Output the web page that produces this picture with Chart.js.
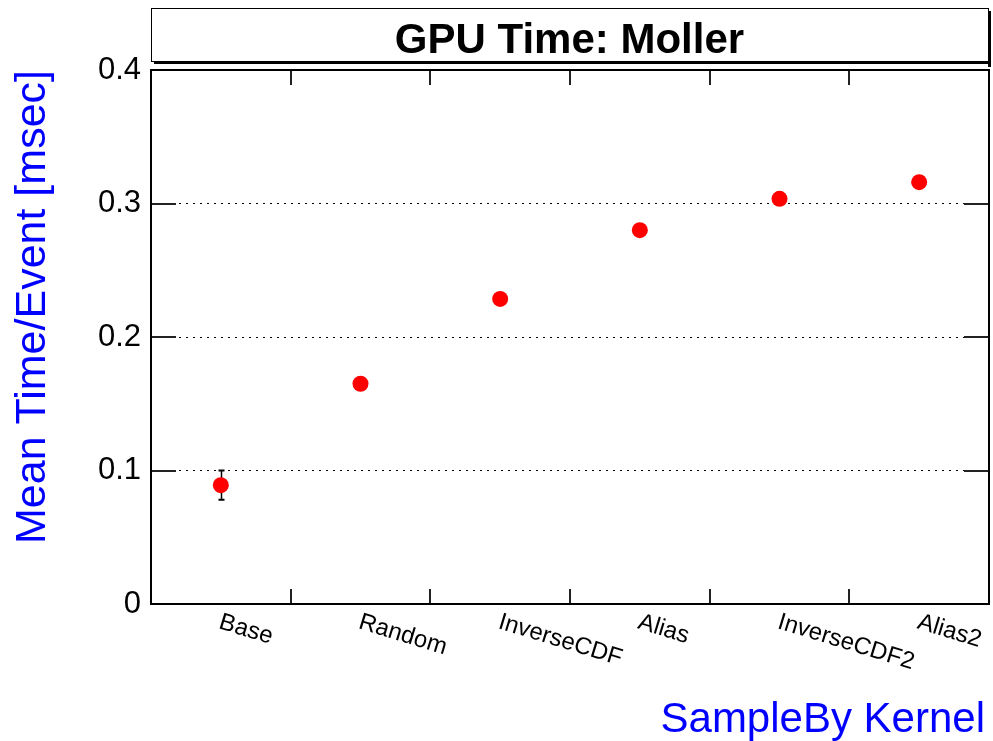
<!DOCTYPE html>
<html>
<head>
<meta charset="utf-8">
<script src="https://cdn.jsdelivr.net/npm/chart.js@4/dist/chart.umd.min.js"></script>
<style>
  html, body { margin: 0; padding: 0; background: #ffffff; }
  #wrap { width: 993px; height: 741px; }
</style>
</head>
<body>
<div id="wrap"><canvas id="c" width="993" height="741"></canvas></div>
<script>
// Sampling kernels on the x axis
const categories = ['Base', 'Random', 'InverseCDF', 'Alias', 'InverseCDF2', 'Alias2'];
// Mean GPU time per event [msec]
const meanTimes = [0.089, 0.165, 0.2285, 0.280, 0.3035, 0.316];
// Statistical error on each mean [msec]
const meanErrors = [0.011, 0.0005, 0.0005, 0.0005, 0.0005, 0.0005];
// Y axis tick values
const yTicks = [0, 0.1, 0.2, 0.3, 0.4];

const FONT = '"Liberation Sans", Arial, Helvetica, sans-serif';
const titleText = 'GPU Time: Moller';
const xTitleText = 'SampleBy Kernel';

// White page, title box with drop shadow, x axis title
const backgroundAndTitle = {
  id: 'backgroundAndTitle',
  beforeDraw(chart) {
    const ctx = chart.ctx;
    ctx.save();
    ctx.fillStyle = '#ffffff';
    ctx.fillRect(0, 0, chart.width, chart.height);
    ctx.restore();
  },
  afterDraw(chart) {
    const ctx = chart.ctx;
    const a = chart.chartArea;
    ctx.save();
    const bx = a.left, by = 8, bw = a.right - a.left - 1, bh = 53;
    ctx.fillStyle = '#ffffff';
    ctx.fillRect(bx, by, bw, bh);
    ctx.strokeStyle = '#000000';
    ctx.lineWidth = 1;
    ctx.strokeRect(bx + 0.5, by + 0.5, bw, bh);
    ctx.fillStyle = '#000000';
    ctx.fillRect(bx + bw, by + 3, 3, bh + 3);
    ctx.fillRect(bx + 3, by + bh, bw, 3);
    ctx.font = 'bold 42px ' + FONT;
    ctx.textAlign = 'center';
    ctx.textBaseline = 'alphabetic';
    ctx.fillText(titleText, bx + bw / 2, 53);
    // x axis title, right aligned under the axis end
    ctx.fillStyle = '#0000ff';
    ctx.font = '42px ' + FONT;
    ctx.textAlign = 'right';
    ctx.fillText(xTitleText, a.right - 4, 732);
    ctx.restore();
  }
};

// Frame, inner tick marks, rotated category labels and error bars
const frameAndTicks = {
  id: 'frameAndTicks',
  beforeDatasetsDraw(chart) {
    const ctx = chart.ctx;
    const xs = chart.scales.x, ys = chart.scales.y;
    ctx.save();
    ctx.strokeStyle = '#000000';
    meanTimes.forEach((v, i) => {
      const e = meanErrors[i];
      const x = Math.round(xs.getPixelForValue(i)) + 0.5;
      const y1 = ys.getPixelForValue(v - e);
      const y2 = ys.getPixelForValue(v + e);
      if (y1 - y2 < 4) return;
      ctx.lineWidth = 1.5;
      ctx.beginPath();
      ctx.moveTo(x, y1); ctx.lineTo(x, y2);
      ctx.stroke();
      ctx.lineWidth = 2;
      ctx.beginPath();
      ctx.moveTo(x - 3, y1); ctx.lineTo(x + 3, y1);
      ctx.moveTo(x - 3, y2); ctx.lineTo(x + 3, y2);
      ctx.stroke();
    });
    ctx.restore();
  },
  afterDatasetsDraw(chart) {
    const ctx = chart.ctx;
    const a = chart.chartArea;
    const xs = chart.scales.x, ys = chart.scales.y;
    ctx.save();
    ctx.strokeStyle = '#222222';
    ctx.lineWidth = 2;
    ctx.beginPath();
    // y tick marks on both sides
    yTicks.forEach(t => {
      const y = Math.round(ys.getPixelForValue(t));
      ctx.moveTo(a.left, y); ctx.lineTo(a.left + 25, y);
      ctx.moveTo(a.right, y); ctx.lineTo(a.right - 25, y);
    });
    // x tick marks at category boundaries, bottom and top
    for (let i = 0; i < categories.length - 1; i++) {
      const x = Math.round((xs.getPixelForValue(i) + xs.getPixelForValue(i + 1)) / 2);
      ctx.moveTo(x, a.bottom); ctx.lineTo(x, a.bottom - 15);
      ctx.moveTo(x, a.top); ctx.lineTo(x, a.top + 15);
    }
    ctx.stroke();
    ctx.strokeStyle = '#000000';
    ctx.strokeRect(a.left, a.top, a.right - a.left, a.bottom - a.top);
    // category labels, slanted downwards
    ctx.fillStyle = '#000000';
    ctx.font = '24px ' + FONT;
    ctx.textAlign = 'left';
    ctx.textBaseline = 'alphabetic';
    categories.forEach((lab, i) => {
      const x = xs.getPixelForValue(i);
      ctx.save();
      ctx.translate(x - 3, a.bottom + 24);
      ctx.rotate(17 * Math.PI / 180);
      ctx.fillText(lab, 0, 0);
      ctx.restore();
    });
    ctx.restore();
  }
};

new Chart(document.getElementById('c'), {
  type: 'line',
  data: {
    labels: categories,
    datasets: [{
      data: meanTimes,
      showLine: false,
      pointRadius: 8,
      pointHoverRadius: 8,
      pointBackgroundColor: '#ff0000',
      pointBorderWidth: 0,
      borderColor: '#ff0000'
    }]
  },
  plugins: [backgroundAndTitle, frameAndTicks],
  options: {
    responsive: false,
    animation: false,
    events: [],
    layout: { autoPadding: false, padding: { top: 70, right: 4, left: 0, bottom: 0 } },
    plugins: {
      legend: { display: false },
      title: { display: false },
      tooltip: { enabled: false }
    },
    scales: {
      x: {
        type: 'category',
        offset: true,
        grid: { display: false, drawTicks: false },
        border: { display: false },
        ticks: { display: false },
        title: { display: false },
        afterFit(scale) { scale.height = 137; }
      },
      y: {
        min: 0,
        max: 0.4,
        afterBuildTicks(scale) { scale.ticks = yTicks.map(v => ({ value: v })); },
        ticks: {
          color: '#000000',
          padding: 10,
          font: { family: FONT, size: 31 },
          callback: v => (v === 0 ? '0' : v.toFixed(1))
        },
        grid: {
          drawTicks: false,
          color: ctx => (ctx.tick && (ctx.tick.value === 0 || ctx.tick.value === 0.4) ? 'rgba(0,0,0,0)' : '#000000'),
          lineWidth: 1
        },
        border: { display: false, dash: [2, 5] },
        title: {
          display: true,
          text: 'Mean Time/Event [msec]',
          color: '#0000ff',
          align: 'end',
          font: { family: FONT, size: 43, lineHeight: 1 },
          padding: { top: 12, bottom: 0 }
        },
        afterFit(scale) { scale.width = 151; }
      }
    }
  }
});
</script>
</body>
</html>
